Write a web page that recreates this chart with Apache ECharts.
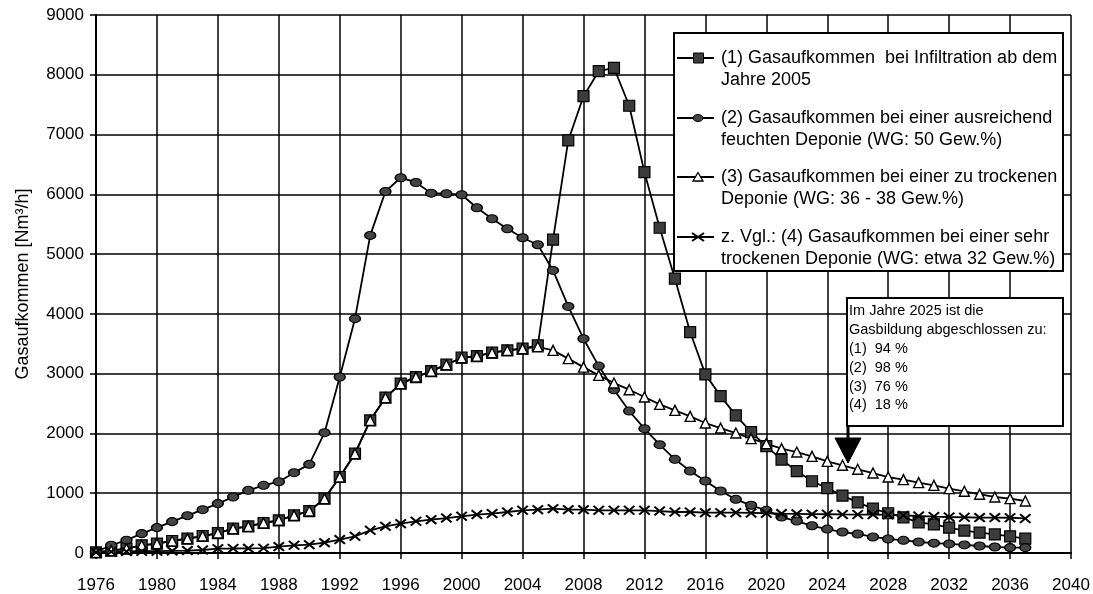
<!DOCTYPE html>
<html>
<head>
<meta charset="utf-8">
<script src="https://cdn.jsdelivr.net/npm/echarts@6/dist/echarts.min.js"></script>
<style>
html,body{margin:0;padding:0;background:#fff;}
#chart{width:1093px;height:594px;}
</style>
</head>
<body>
<div id="chart"></div>
<script>
// Years 1976 .. 2037
const years = [1976,1977,1978,1979,1980,1981,1982,1983,1984,1985,1986,1987,1988,1989,1990,1991,1992,1993,1994,1995,1996,1997,1998,1999,2000,2001,2002,2003,2004,2005,2006,2007,2008,2009,2010,2011,2012,2013,2014,2015,2016,2017,2018,2019,2020,2021,2022,2023,2024,2025,2026,2027,2028,2029,2030,2031,2032,2033,2034,2035,2036,2037];

// (1) Infiltration ab 2005 (squares)
const s1 = [10,40,73,129,157,201,240,284,334,408,446,502,547,630,702,910,1271,1662,2219,2599,2833,2943,3043,3150,3267,3294,3351,3390,3418,3473,5241,6901,7642,8060,8117,7482,6371,5441,4589,3696,2988,2625,2303,2023,1789,1562,1371,1200,1085,960,848,742,665,597,513,478,425,375,341,310,279,240];
// (2) ausreichend feuchte Deponie (circles)
const s2 = [20,130,215,324,425,525,625,725,826,937,1048,1132,1193,1344,1483,2013,2943,3920,5313,6048,6278,6199,6020,6010,5993,5776,5592,5425,5274,5157,4727,4125,3585,3127,2732,2375,2080,1812,1567,1371,1204,1037,898,798,714,602,535,455,400,351,318,268,235,212,184,165,152,135,117,100,90,90];
// (3) zu trockene Deponie (triangles)
const s3 = [10,40,73,129,157,201,240,284,334,408,446,502,547,630,702,910,1271,1662,2219,2599,2833,2943,3043,3150,3267,3294,3351,3390,3418,3450,3390,3251,3110,2971,2843,2732,2609,2487,2386,2286,2174,2090,2007,1913,1829,1746,1689,1617,1533,1467,1400,1338,1271,1227,1177,1132,1077,1032,982,937,910,870];
// (4) sehr trockene Deponie (crosses)
const s4 = [10,20,25,30,30,35,40,50,73,75,78,80,107,129,140,173,224,279,380,446,491,530,558,585,614,642,659,686,714,725,742,725,725,714,714,714,714,702,686,686,675,675,675,670,665,659,655,650,648,645,643,642,640,630,619,610,602,598,592,592,590,578];

const seriesNames = [
  '(1) Gasaufkommen  bei Infiltration ab dem\nJahre 2005',
  '(2) Gasaufkommen bei einer ausreichend\nfeuchten Deponie (WG: 50 Gew.%)',
  '(3) Gasaufkommen bei einer zu trockenen\nDeponie (WG: 36 - 38 Gew.%)',
  'z. Vgl.: (4) Gasaufkommen bei einer sehr\ntrockenen Deponie (WG: etwa 32 Gew.%)'
];
const noteLines = ['Im Jahre 2025 ist die','Gasbildung abgeschlossen zu:','(1)  94 %','(2)  98 %','(3)  76 %','(4)  18 %'];
const yAxisTitle = 'Gasaufkommen [Nm³/h]';

const FONT = '"Liberation Sans", Arial, sans-serif';
const pairs = arr => years.map((y, i) => [y, arr[i]]);
const crossPath = 'path://M0,1.3L1.3,0L5,3.7L8.7,0L10,1.3L6.3,5L10,8.7L8.7,10L5,6.3L1.3,10L0,8.7L3.7,5Z';

const chart = echarts.init(document.getElementById('chart'), null, {renderer: 'canvas'});

const lineBase = {type: 'line', animation: false, lineStyle: {color: '#000', width: 1.8}};

// legend drawn as graphic
const legX = 674, legY = 33, legW = 389, legH = 238;
const itemY = [58, 118, 177, 237];
const legend = [
  {type: 'rect', shape: {x: legX, y: legY, width: legW, height: legH}, style: {fill: '#fff', stroke: '#000', lineWidth: 2}, z: 10}
];
itemY.forEach((cy, i) => {
  legend.push({type: 'line', shape: {x1: 677, y1: cy, x2: 714, y2: cy}, style: {stroke: '#000', lineWidth: 1.8}, z: 11});
  legend.push({type: 'text', style: {text: seriesNames[i], x: 721, y: cy - 11.5, font: '18px ' + FONT, fill: '#000', lineHeight: 22.5, textVerticalAlign: 'top'}, z: 11});
});
legend.push({type: 'rect', shape: {x: 693.5, y: itemY[0] - 5, width: 10, height: 10}, style: {fill: '#3c3c3c', stroke: '#000', lineWidth: 1}, z: 12});
legend.push({type: 'ellipse', shape: {cx: 698, cy: itemY[1], rx: 5, ry: 3.5}, style: {fill: '#444', stroke: '#000', lineWidth: 1}, z: 12});
legend.push({type: 'polygon', shape: {points: [[698, itemY[2] - 4.5], [703, itemY[2] + 4], [693, itemY[2] + 4]]}, style: {fill: '#fff', stroke: '#000', lineWidth: 1.3}, z: 12});
legend.push({type: 'line', shape: {x1: 692, y1: itemY[3] - 4, x2: 704, y2: itemY[3] + 4}, style: {stroke: '#000', lineWidth: 2}, z: 12});
legend.push({type: 'line', shape: {x1: 692, y1: itemY[3] + 4, x2: 704, y2: itemY[3] - 4}, style: {stroke: '#000', lineWidth: 2}, z: 12});

// annotation
const note = [
  {type: 'rect', shape: {x: 847, y: 298, width: 216, height: 128}, style: {fill: '#fff', stroke: '#000', lineWidth: 2}, z: 10},
  {type: 'text', style: {text: noteLines.join('\n'), x: 849, y: 301.5, font: '14.5px ' + FONT, fill: '#000', lineHeight: 18.9, textVerticalAlign: 'top'}, z: 11},
  {type: 'line', shape: {x1: 848, y1: 426, x2: 848, y2: 441}, style: {stroke: '#000', lineWidth: 3}, z: 11},
  {type: 'polygon', shape: {points: [[835, 438], [861, 438], [848, 463]]}, style: {fill: '#000', stroke: '#000', lineWidth: 1}, z: 11}
];

const option = {
  animation: false,
  backgroundColor: '#fff',
  textStyle: {fontFamily: FONT},
  grid: {left: 96, right: 22, top: 15, bottom: 41, containLabel: false},
  xAxis: {
    type: 'value', min: 1976, max: 2040, interval: 4,
    axisLine: {show: true, lineStyle: {color: '#000', width: 2}},
    axisTick: {show: true, length: 6, lineStyle: {color: '#000', width: 1.5}},
    axisLabel: {color: '#000', fontSize: 17, fontFamily: FONT, margin: 24, formatter: v => String(v)},
    splitLine: {show: true, lineStyle: {color: '#000', width: 1.5}}
  },
  yAxis: {
    type: 'value', min: 0, max: 9000, interval: 1000,
    name: yAxisTitle, nameLocation: 'middle', nameRotate: 90, nameGap: 64,
    nameTextStyle: {color: '#000', fontSize: 18, fontFamily: FONT},
    axisLine: {show: true, lineStyle: {color: '#000', width: 2}},
    axisTick: {show: true, length: 6, lineStyle: {color: '#000', width: 1.5}},
    axisLabel: {color: '#000', fontSize: 17, fontFamily: FONT, margin: 12, formatter: v => String(v)},
    splitLine: {show: true, lineStyle: {color: '#000', width: 1.5}}
  },
  series: [
    Object.assign({}, lineBase, {name: seriesNames[0], data: pairs(s1), symbol: 'rect', symbolSize: 11,
      itemStyle: {color: '#3c3c3c', borderColor: '#000', borderWidth: 1.2}}),
    Object.assign({}, lineBase, {name: seriesNames[1], data: pairs(s2), symbol: 'circle', symbolSize: [11, 8],
      itemStyle: {color: '#444', borderColor: '#000', borderWidth: 1.2}}),
    Object.assign({}, lineBase, {name: seriesNames[2], data: pairs(s3), symbol: 'triangle', symbolSize: 10,
      itemStyle: {color: '#fff', borderColor: '#000', borderWidth: 1.4}}),
    Object.assign({}, lineBase, {name: seriesNames[3], data: pairs(s4), symbol: crossPath, symbolSize: [12, 10],
      itemStyle: {color: '#000', borderColor: '#000', borderWidth: 0}})
  ],
  graphic: legend.concat(note)
};
chart.setOption(option);
</script>
</body>
</html>
